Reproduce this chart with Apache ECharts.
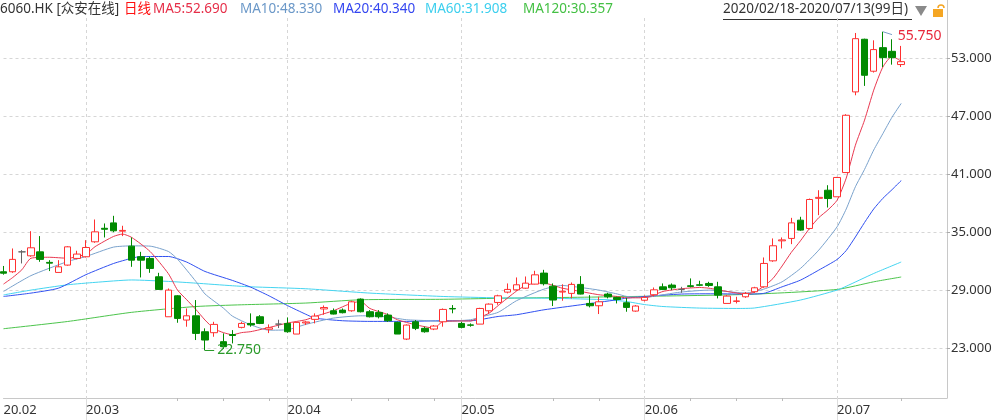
<!DOCTYPE html>
<html>
<head>
<meta charset="utf-8">
<title>6060.HK</title>
<script src="https://cdn.jsdelivr.net/npm/echarts@6/dist/echarts.min.js"></script>
<style>
  html, body { margin: 0; padding: 0; background: #fff; }
  #main { width: 1000px; height: 420px; }
</style>
</head>
<body>
<div id="main"></div>
<script type="text/javascript">
// trading days 2020/02/18 - 2020/07/13
var dates = [
  '2020/02/18','2020/02/19','2020/02/20','2020/02/21','2020/02/24','2020/02/25','2020/02/26','2020/02/27','2020/02/28',
  '2020/03/02','2020/03/03','2020/03/04','2020/03/05','2020/03/06','2020/03/09','2020/03/10','2020/03/11','2020/03/12','2020/03/13',
  '2020/03/16','2020/03/17','2020/03/18','2020/03/19','2020/03/20','2020/03/23','2020/03/24','2020/03/25','2020/03/26','2020/03/27',
  '2020/03/30','2020/03/31',
  '2020/04/01','2020/04/02','2020/04/03','2020/04/06','2020/04/07','2020/04/08','2020/04/09','2020/04/14','2020/04/15','2020/04/16',
  '2020/04/17','2020/04/20','2020/04/21','2020/04/22','2020/04/23','2020/04/24','2020/04/27','2020/04/28','2020/04/29',
  '2020/05/04','2020/05/05','2020/05/06','2020/05/07','2020/05/08','2020/05/11','2020/05/12','2020/05/13','2020/05/14','2020/05/15',
  '2020/05/18','2020/05/19','2020/05/20','2020/05/21','2020/05/22','2020/05/25','2020/05/26','2020/05/27','2020/05/28','2020/05/29',
  '2020/06/01','2020/06/02','2020/06/03','2020/06/04','2020/06/05','2020/06/08','2020/06/09','2020/06/10','2020/06/11','2020/06/12',
  '2020/06/15','2020/06/16','2020/06/17','2020/06/18','2020/06/19','2020/06/22','2020/06/23','2020/06/24','2020/06/26','2020/06/29',
  '2020/06/30',
  '2020/07/02','2020/07/03','2020/07/06','2020/07/07','2020/07/08','2020/07/09','2020/07/10','2020/07/13'
];

// [open, close, low, high]
var ohlc = [
  [30.90,30.75,30.60,31.50],[30.90,32.18,30.79,33.31],[32.96,32.96,31.76,33.14],[32.55,33.38,32.45,35.10],[32.96,32.18,31.93,34.59],
  [31.87,31.79,30.97,32.10],[30.83,31.41,30.83,32.10],[31.59,33.48,31.52,33.55],[32.28,32.73,32.18,33.07],[32.45,33.41,32.38,34.17],
  [34.00,35.03,33.90,36.31],[35.40,35.30,34.45,35.90],[35.96,35.14,35.00,36.69],[35.10,35.18,34.59,35.66],[33.55,32.10,31.41,34.45],
  [32.45,32.10,30.31,32.96],[32.28,31.24,30.79,32.45],[30.38,29.07,29.07,30.79],[26.24,29.00,26.24,29.17],[28.41,26.07,25.62,28.48],
  [25.90,26.34,25.21,27.10],[26.34,24.52,23.83,27.97],[24.69,23.83,22.75,25.04],[24.59,25.45,24.17,25.72],[23.66,23.14,22.90,24.52],
  [24.40,24.30,23.48,24.86],[25.14,25.55,25.04,25.72],[25.55,25.40,25.21,26.59],[26.24,25.55,25.48,26.41],[24.95,25.10,24.55,25.45],
  [25.48,25.48,25.07,25.93],[25.55,24.69,24.59,26.17],[24.45,25.66,24.45,25.72],[25.60,25.70,25.38,25.79],[25.97,26.31,25.55,26.59],
  [27.05,27.20,26.45,27.41],[26.86,26.52,26.48,27.10],[26.93,26.66,26.59,27.10],[26.86,27.79,26.76,27.90],[28.07,26.76,26.69,28.14],
  [26.76,26.24,26.17,26.93],[26.69,26.24,26.07,26.93],[26.41,25.83,25.72,26.59],[25.66,24.45,24.45,25.72],[23.93,25.38,23.83,25.45],
  [25.72,25.04,24.86,25.90],[25.04,24.69,24.59,25.21],[24.97,25.28,24.86,25.38],[25.72,27.00,25.21,27.10],[27.10,27.05,26.60,27.45],
  [25.55,25.14,25.04,25.72],[25.40,25.36,25.21,25.55],[25.48,27.10,25.48,27.17],[26.86,27.55,26.59,27.62],[27.72,28.41,27.48,28.52],
  [28.79,29.07,28.66,29.69],[29.03,29.55,28.93,30.31],[29.20,29.72,29.14,30.41],[29.62,30.58,29.59,31.00],[30.76,29.66,29.48,31.10],
  [29.41,27.97,27.35,29.69],[28.80,28.88,27.90,29.60],[28.66,29.59,28.14,29.79],[29.59,28.59,28.55,30.45],[27.62,27.38,27.21,28.48],
  [27.38,27.79,26.52,28.31],[28.59,28.31,28.14,28.72],[28.24,28.03,27.62,28.31],[27.69,27.21,26.76,28.21],[26.83,27.35,26.76,27.45],
  [27.95,28.25,27.83,28.44],[28.52,29.03,28.34,29.27],[29.34,29.07,29.00,29.69],[29.52,29.24,29.00,29.69],[29.07,29.07,28.72,29.34],
  [29.45,29.38,29.28,30.21],[29.55,29.50,29.41,29.97],[29.69,29.48,29.34,29.86],[29.34,28.48,28.14,29.86],[27.62,28.38,27.62,28.48],
  [27.83,27.88,27.62,28.31],[28.31,28.66,28.20,28.80],[28.83,29.24,28.70,29.34],[29.34,31.76,29.24,32.38],[32.03,33.59,31.93,34.35],
  [34.10,34.20,33.31,34.45],[34.35,35.96,33.76,36.48],[36.24,35.21,35.14,36.59],[35.38,38.38,35.28,38.48],[38.50,38.60,36.76,39.34],
  [39.34,38.48,37.55,39.86],[38.66,40.66,38.66,40.72],[41.17,47.10,41.14,47.21],[49.52,55.03,49.17,55.62],[54.97,51.24,50.14,55.03],
  [51.66,53.90,51.52,54.86],[54.10,53.07,52.10,55.75],[53.72,53.07,52.34,54.97],[52.35,52.65,52.10,54.28]
];

// moving averages: [day index, value]
var ma5 = [[0,29.62],[1,30.3],[2,31.1],[3,32.3],[5,32.4],[7,32.3],[9,32.72],[10,33.5],[12,34.55],[13,34.8],[14,34.45],
  [16,33.0],[18,30.7],[19,29.0],[20,28.0],[21,27.0],[22,25.9],[23,25.0],[24,24.6],[25,24.38],[26,24.6],[27,24.7],[29,25.13],
  [31,25.59],[33,25.93],[34,26.27],[36,26.86],[38,27.66],[39,27.82],[40,27.1],[42,26.45],[43,25.93],[45,25.41],[47,25.07],
  [48,25.76],[50,25.8],[51,25.8],[52,26.2],[53,26.6],[54,27.4],[56,28.9],[57,29.48],[58,29.7],[59,29.72],[61,29.2],[63,28.86],
  [65,28.52],[67,28.34],[68,28.2],[70,28.2],[72,28.86],[74,29.14],[76,29.27],[77,29.2],[79,28.86],[81,28.59],[82,28.8],
  [83,29.4],[84,30.2],[85,31.5],[86,32.9],[87,34.1],[88,35.4],[89,36.5],[90,37.3],[91,38.3],[92,40.6],[93,44.0],[94,46.6],
  [95,49.7],[96,52.1],[97,53.2],[98,52.69]];
var ma10 = [[0,28.86],[3,30.5],[7,31.96],[9,32.48],[12,33.45],[14,33.58],[16,33.55],[18,33.0],[19,32.2],[21,29.9],[22,28.6],
  [24,27.14],[25,26.3],[27,25.4],[29,24.85],[31,24.9],[33,25.45],[36,26.1],[39,26.34],[40,26.34],[42,26.21],[44,25.93],
  [46,25.85],[48,25.76],[51,25.93],[52,26.2],[54,26.7],[56,27.9],[59,29.1],[61,29.48],[63,29.27],[65,29.0],[67,28.6],
  [68,28.35],[70,28.24],[72,28.52],[74,28.8],[77,29.0],[81,28.7],[83,29.1],[85,29.86],[87,31.24],[89,33.14],[91,35.55],
  [92,37.4],[93,39.7],[94,41.5],[95,43.5],[96,45.2],[97,46.9],[98,48.33]];
var ma20 = [[0,28.34],[3,28.69],[6,29.2],[9,30.6],[12,31.75],[14,32.3],[15,32.48],[18,32.48],[20,31.9],[22,30.93],[25,30.0],
  [27,29.3],[29,28.4],[31,27.4],[33,26.5],[34,26.1],[37,25.83],[40,25.76],[44,25.76],[48,25.83],[51,25.83],[54,26.27],
  [56,26.45],[59,26.96],[63,27.48],[67,28.0],[68,28.17],[70,28.34],[74,28.59],[78,28.62],[81,28.59],[83,28.66],[85,29.34],
  [87,30.03],[89,31.07],[91,32.17],[92,33.1],[93,34.5],[94,36.0],[95,37.4],[96,38.5],[97,39.4],[98,40.34]];
var ma60 = [[0,28.5],[3,29.0],[7,29.55],[10,29.8],[14,30.05],[18,29.9],[21,29.72],[25,29.45],[27,29.34],[33,29.14],[40,28.69],
  [48,28.34],[54,28.2],[60,28.15],[66,28.0],[68,27.82],[70,27.5],[72,27.3],[76,27.14],[80,27.1],[82,27.15],[87,27.97],
  [91,29.0],[92,29.4],[95,30.72],[98,31.908]];
var ma120 = [[0,25.0],[7,25.75],[14,26.7],[21,27.3],[26,27.48],[33,27.66],[39,28.0],[48,28.05],[54,28.15],[66,28.3],
  [81,28.55],[91,29.07],[95,29.86],[98,30.357]];

var yTicks = [23, 29, 35, 41, 47, 53];
var weekTicks = [19, 24, 29, 38, 42, 47, 60, 65, 75, 80, 85, 98];
var header = [
  ['6060.HK [众安在线]', 0, '#333333'],
  ['日线', 124, '#ff1010'],
  ['MA5:52.690', 153, '#e62e48'],
  ['MA10:48.330', 240, '#6b98c8'],
  ['MA20:40.340', 333, '#3446f0'],
  ['MA60:31.908', 425, '#3ccfee'],
  ['MA120:30.357', 523, '#44c044'],
  ['2020/02/18-2020/07/13(99日)', 723, '#333333']
];

// month starts from the dates
var monthStarts = [];
for (var i = 0; i < dates.length; i++) {
  if (i == 0 || dates[i].substr(5, 2) != dates[i - 1].substr(5, 2)) monthStarts.push(i);
}
// a few empty days on the right, like the source chart
var cats = dates.slice();
for (var k = 0; k < 5; k++) cats.push('');

var font = '"Noto Sans", "Noto Sans CJK SC", sans-serif';
var graphics = [];
header.forEach(function (h) {
  graphics.push({ type: 'text', left: h[1], top: 2, style: { text: h[0], fill: h[2], font: '13.5px ' + font } });
});
graphics.push({ type: 'line', shape: { x1: 723, y1: 19.5, x2: 912, y2: 19.5 }, style: { stroke: '#333', lineWidth: 1 } });
graphics.push({ type: 'polygon', shape: { points: [[915, 6], [927, 6], [921, 16]] }, style: { fill: '#8a8a8a' } });
graphics.push({ type: 'rect', shape: { x: 933, y: 9, width: 10, height: 8 }, style: { fill: '#f5a623' } });
graphics.push({ type: 'arc', shape: { cx: 941, cy: 8, r: 3, startAngle: Math.PI, endAngle: 0 }, style: { stroke: '#f5a623', fill: null, lineWidth: 1.5 } });
graphics.push({ type: 'line', shape: { x1: 947.5, y1: 0, x2: 947.5, y2: 18 }, style: { stroke: '#c8c8c8', lineWidth: 1 } });

function maLine(name, data, color) {
  return { name: name, type: 'line', data: data, symbol: 'none', smooth: 0.2, silent: true,
    lineStyle: { width: 1, color: color }, z: 3 };
}

var myChart = echarts.init(document.getElementById('main'));
var option = {
  animation: false,
  graphic: graphics,
  grid: { left: 3.5, right: 53, top: 18, bottom: 22 },
  xAxis: [{
    type: 'category', data: cats, boundaryGap: false,
    axisLine: { lineStyle: { color: '#c8c8c8' } },
    axisTick: { interval: function (i) { return weekTicks.indexOf(i) >= 0; }, length: 3, lineStyle: { color: '#bbb' } },
    axisLabel: {
      interval: function (i) { return monthStarts.indexOf(i) >= 0; },
      formatter: function (v) { return v ? v.substr(2, 2) + '.' + v.substr(5, 2) : ''; },
      align: 'left', color: '#333', fontSize: 13, margin: 6, fontFamily: font
    },
    splitLine: { show: true, interval: function (i) { return i > 0 && monthStarts.indexOf(i) >= 0; },
      lineStyle: { type: [3, 3], color: '#d6d6d6' } }
  }, {
    type: 'category', data: cats, boundaryGap: false, position: 'bottom',
    axisLine: { show: false }, axisLabel: { show: false }, splitLine: { show: false },
    axisTick: { interval: function (i) { return i > 0 && monthStarts.indexOf(i) >= 0; }, length: 22, lineStyle: { color: '#dedede' } }
  }],
  yAxis: {
    type: 'value', position: 'right', min: 17.83, max: 57.17, scale: true,
    axisLine: { show: true, lineStyle: { color: '#c8c8c8' } },
    axisTick: { show: true, length: 3, customValues: yTicks, lineStyle: { color: '#aaa' } },
    axisLabel: { customValues: yTicks, formatter: function (v) { return v.toFixed(3); }, color: '#333', fontSize: 13, margin: 4,
      fontFamily: font },
    splitLine: { lineStyle: { type: [3, 3], color: '#d6d6d6' } }
  },
  series: [{
    name: '日线', type: 'candlestick', data: ohlc, barWidth: 7, clip: false, z: 4,
    itemStyle: { color: '#ffffff', color0: '#008a00', borderColor: '#ff3030', borderColor0: '#008a00',
      borderColorDoji: '#666666', borderWidth: 1 },
    markLine: {
      silent: true, symbol: ['none', 'none'], animation: false,
      data: [
        [{ coord: [96, 55.75], lineStyle: { color: '#7a9fc8', width: 1, type: 'solid' } },
         { coord: [97, 55.45], label: { show: true, position: 'end', formatter: '55.750', color: '#e8283c', fontSize: 14, distance: 6, fontFamily: font } }],
        [{ coord: [22, 22.75], lineStyle: { color: '#2a9a2a', width: 1, type: 'solid' } },
         { coord: [23, 22.75], label: { show: true, position: 'end', formatter: '22.750', color: '#2a9a2a', fontSize: 14, distance: 3, fontFamily: font } }]
      ]
    }
  },
    maLine('MA120', ma120, '#4cc44c'),
    maLine('MA60', ma60, '#44d4f0'),
    maLine('MA20', ma20, '#3050f0'),
    maLine('MA10', ma10, '#7aa2cc'),
    maLine('MA5', ma5, '#e83850')
  ]
};
myChart.setOption(option);
</script>
</body>
</html>
